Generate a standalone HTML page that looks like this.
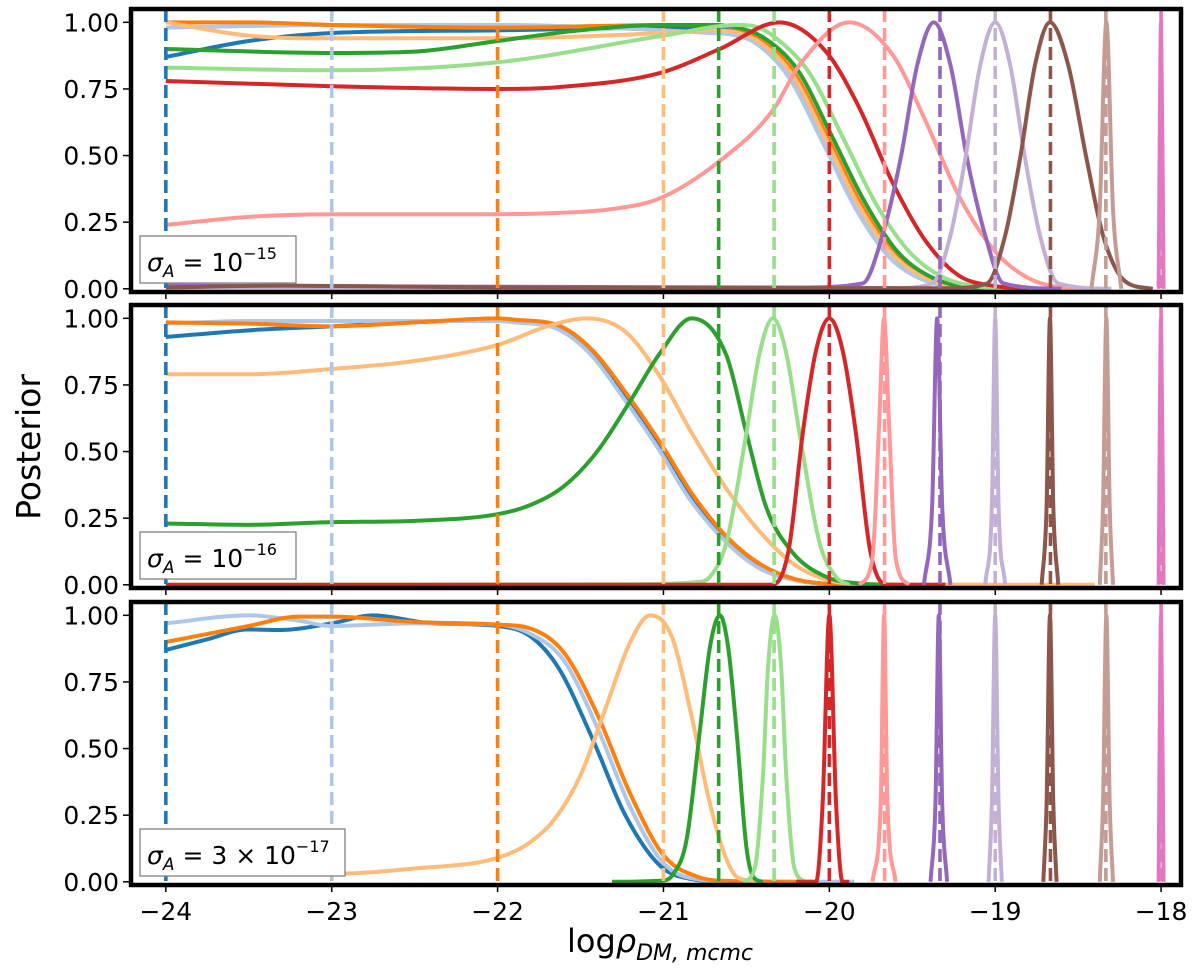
<!DOCTYPE html>
<html><head><meta charset="utf-8"><style>
html,body{margin:0;padding:0;background:#fff;}
svg text{font-family:"DejaVu Sans","Liberation Sans",sans-serif;}
</style></head><body>
<svg id="chart" width="1200" height="970" viewBox="0 0 1200 970" xmlns="http://www.w3.org/2000/svg">
<text x="0" y="0" font-size="33" text-anchor="middle" transform="translate(40,447) rotate(-90)">Posterior</text>
<text x="660" y="952" font-size="32" text-anchor="middle">log<tspan font-style="italic">ρ</tspan><tspan font-style="italic" font-size="22" dy="8">DM, mcmc</tspan></text>
</svg>
<script>
const xTicks = [-24,-23,-22,-21,-20,-19,-18];
const yTicks = [0,0.25,0.5,0.75,1.0];
const yTickLabels = ["0.00","0.25","0.50","0.75","1.00"];
const trueValues = [-24,-23,-22,-21,-20.667,-20.333,-20,-19.667,-19.333,-19,-18.667,-18.333,-18];
const colors = ["#1f77b4","#aec7e8","#ff7f0e","#ffbb78","#2ca02c","#98df8a","#d62728","#ff9896","#9467bd","#c5b0d5","#8c564b","#c49c94","#e377c2"];
const panelLabels = ["10<tspan dy='-12' font-size='16'>−15</tspan>","10<tspan dy='-12' font-size='16'>−16</tspan>","3 × 10<tspan dy='-12' font-size='16'>−17</tspan>"];

// Panel 1 (sigma 1e-15)
const p1_blue = [[-24,0.87],[-23.5,0.93],[-23,0.96],[-22,0.97],[-21,0.98],[-20.7,0.98],[-20.58,0.975],[-20.42,0.93],[-20.22,0.80],[-20.02,0.56],[-19.82,0.31],[-19.62,0.13],[-19.42,0.04],[-19.2,0.005],[-19,0]];
const p1_lblue = [[-24,0.98],[-23,0.99],[-22,0.99],[-21,0.97],[-20.72,0.96],[-20.6,0.955],[-20.44,0.92],[-20.24,0.79],[-20.04,0.55],[-19.84,0.30],[-19.64,0.12],[-19.44,0.035],[-19.2,0.004],[-19,0]];
const p1_orange = [[-24,1.0],[-23.5,1.0],[-23,0.99],[-22,0.98],[-21,0.99],[-20.7,0.99],[-20.57,0.98],[-20.41,0.935],[-20.21,0.81],[-20.01,0.57],[-19.81,0.32],[-19.61,0.135],[-19.41,0.04],[-19.2,0.005],[-19,0]];
const p1_lorange = [[-24,1.0],[-23.5,0.95],[-23,0.94],[-22,0.94],[-21,0.96],[-20.7,0.97],[-20.58,0.965],[-20.42,0.925],[-20.22,0.80],[-20.02,0.56],[-19.82,0.31],[-19.62,0.13],[-19.42,0.04],[-19.2,0.005],[-19,0]];
const p1_green = [[-24,0.9],[-23,0.885],[-22.5,0.89],[-22,0.93],[-21.5,0.97],[-21,0.99],[-20.7,0.99],[-20.55,0.98],[-20.39,0.94],[-20.19,0.82],[-19.99,0.58],[-19.79,0.33],[-19.59,0.14],[-19.39,0.045],[-19.15,0.005],[-18.95,0]];
const p1_lgreen = [[-24,0.83],[-23,0.82],[-22,0.85],[-21,0.95],[-20.55,0.99],[-20.45,0.985],[-20.32,0.94],[-20.12,0.81],[-19.92,0.57],[-19.72,0.32],[-19.52,0.14],[-19.32,0.045],[-19.1,0.008],[-18.9,0]];
const p1_red = [[-24,0.78],[-23,0.76],[-22,0.75],[-21.63,0.757],[-21.02,0.81],[-20.66,0.90],[-20.3,1.0],[-20.02,0.89],[-19.82,0.68],[-19.62,0.40],[-19.42,0.18],[-19.22,0.05],[-19.0,0.01],[-18.8,0]];
const p1_lred = [[-24,0.24],[-23.5,0.27],[-23,0.28],[-22,0.28],[-21.63,0.285],[-21.3,0.30],[-21.02,0.34],[-20.66,0.48],[-20.34,0.67],[-20.18,0.84],[-19.88,1.0],[-19.62,0.88],[-19.42,0.63],[-19.22,0.35],[-19.0,0.14],[-18.8,0.04],[-18.6,0.005],[-18.4,0]];
const p1_purple = [[-24,0.012],[-20.2,0.005],[-19.8,0.02],[-19.68,0.2],[-19.57,0.49],[-19.47,0.84],[-19.37,1],[-19.27,0.84],[-19.17,0.49],[-19.06,0.2],[-18.95,0.02],[-18.6,0]];
const p1_lpurple = [[-24,0.005],[-19.6,0.003],[-19.38,0.02],[-19.27,0.2],[-19.18,0.49],[-19.09,0.84],[-19.0,1],[-18.91,0.84],[-18.82,0.49],[-18.73,0.2],[-18.62,0.02],[-18.3,0]];
const p1_brown = [[-24,0.005],[-23.3,0.012],[-22,0.005],[-19.3,0.002],[-19.05,0.02],[-18.94,0.2],[-18.85,0.49],[-18.76,0.84],[-18.67,1],[-18.56,0.84],[-18.45,0.49],[-18.35,0.2],[-18.22,0.03],[-18.05,0]];
const p1_lbrown = [[-18.42,0],[-18.37,0.3],[-18.33,1],[-18.29,0.3],[-18.24,0]];
const p1_pink = [[-18.015,0],[-18.0,1],[-17.985,0]];

// Panel 2 (sigma 1e-16)
const p2_blue = [[-24,0.93],[-23.5,0.955],[-23,0.97],[-22.5,0.985],[-22,0.995],[-21.9,0.99],[-21.63,0.965],[-21.43,0.87],[-21.23,0.71],[-21.02,0.52],[-20.83,0.33],[-20.62,0.17],[-20.42,0.07],[-20.22,0.02],[-20.0,0.003],[-19.8,0]];
const p2_lblue = [[-24,0.98],[-23.5,0.99],[-23,0.99],[-22.5,0.99],[-22,0.99],[-21.9,0.985],[-21.64,0.96],[-21.44,0.865],[-21.24,0.70],[-21.03,0.51],[-20.84,0.32],[-20.63,0.165],[-20.43,0.065],[-20.23,0.02],[-20.0,0.003],[-19.8,0]];
const p2_orange = [[-24,0.985],[-23.5,0.98],[-23,0.97],[-22.5,0.985],[-22,1.0],[-21.9,0.995],[-21.62,0.97],[-21.42,0.875],[-21.22,0.715],[-21.01,0.525],[-20.82,0.335],[-20.61,0.175],[-20.41,0.075],[-20.21,0.022],[-20.0,0.003],[-19.8,0]];
const p2_lorange = [[-24,0.79],[-23.5,0.79],[-23,0.81],[-22.5,0.84],[-22,0.9],[-21.7,0.97],[-21.46,1.0],[-21.23,0.95],[-21.02,0.78],[-20.83,0.57],[-20.62,0.36],[-20.42,0.2],[-20.22,0.08],[-20.02,0.02],[-19.8,0.002],[-18.4,0]];
const p2_green = [[-24,0.23],[-23.5,0.225],[-23,0.235],[-22.5,0.24],[-22,0.265],[-21.8,0.30],[-21.6,0.37],[-21.4,0.50],[-21.2,0.69],[-21.02,0.87],[-20.83,1.0],[-20.62,0.86],[-20.5,0.57],[-20.38,0.29],[-20.22,0.12],[-20.02,0.03],[-19.82,0.005],[-19.6,0]];
const p2_lgreen = [[-24,0],[-21.2,0.002],[-20.8,0.01],[-20.72,0.03],[-20.62,0.16],[-20.5,0.57],[-20.42,0.87],[-20.34,1],[-20.26,0.87],[-20.18,0.57],[-20.06,0.16],[-19.96,0.03],[-19.88,0]];
const p2_red = [[-24,0],[-20.36,0],[-20.30,0.02],[-20.24,0.15],[-20.16,0.57],[-20.08,0.88],[-20.0,1],[-19.92,0.88],[-19.84,0.57],[-19.76,0.15],[-19.70,0.02],[-19.64,0],[-19.3,0]];
const p2_lred = [[-19.82,0],[-19.74,0.1],[-19.70,0.6],[-19.67,1],[-19.64,0.6],[-19.60,0.1],[-19.52,0]];
const p2_purple = [[-19.43,0],[-19.38,0.3],[-19.35,1],[-19.32,0.3],[-19.27,0]];
const p2_lpurple = [[-19.06,0],[-19.02,0.3],[-19.0,1],[-18.98,0.3],[-18.94,0]];
const p2_brown = [[-18.72,0],[-18.69,0.3],[-18.67,1],[-18.65,0.3],[-18.62,0]];
const p2_lbrown = [[-18.37,0],[-18.35,0.3],[-18.33,1],[-18.31,0.3],[-18.29,0]];
const p2_pink = [[-18.015,0],[-18.0,1],[-17.985,0]];

// Panel 3 (sigma 3e-17)
const p3_blue = [[-24,0.87],[-23.75,0.91],[-23.51,0.947],[-23.31,0.945],[-23.0,0.97],[-22.75,1.0],[-22.4,0.97],[-22.0,0.96],[-21.8,0.92],[-21.63,0.80],[-21.43,0.54],[-21.23,0.25],[-21.02,0.06],[-20.83,0.01],[-20.6,0]];
const p3_lblue = [[-24,0.97],[-23.5,1.0],[-23.2,0.98],[-23,0.96],[-22.5,0.97],[-22,0.965],[-21.8,0.93],[-21.6,0.83],[-21.4,0.58],[-21.2,0.28],[-21.0,0.07],[-20.8,0.01],[-20.5,0],[-19.85,0]];
const p3_orange = [[-24,0.9],[-23.5,0.96],[-23.2,0.995],[-23,0.995],[-22.5,0.975],[-22,0.965],[-21.8,0.95],[-21.6,0.86],[-21.4,0.63],[-21.2,0.33],[-21.0,0.1],[-20.8,0.02],[-20.6,0.003],[-20.1,0]];
const p3_lorange = [[-24,0.03],[-23,0.03],[-22.5,0.05],[-22,0.09],[-21.8,0.15],[-21.65,0.24],[-21.5,0.40],[-21.35,0.65],[-21.2,0.90],[-21.08,1.0],[-20.95,0.92],[-20.83,0.62],[-20.73,0.32],[-20.63,0.10],[-20.55,0.015],[-20.4,0]];
const p3_green = [[-21.31,0],[-21.0,0.005],[-20.94,0.03],[-20.86,0.16],[-20.78,0.57],[-20.72,0.88],[-20.66,1],[-20.61,0.88],[-20.56,0.57],[-20.5,0.13],[-20.46,0.02],[-20.4,0]];
const p3_lgreen = [[-20.52,0],[-20.45,0.05],[-20.40,0.4],[-20.37,0.8],[-20.33,1],[-20.29,0.8],[-20.26,0.4],[-20.21,0.05],[-20.14,0]];
const p3_red = [[-20.2,0],[-20.08,0],[-20.04,0.3],[-20.0,1],[-19.96,0.3],[-19.92,0],[-19.88,0]];
const p3_lred = [[-19.74,0],[-19.69,0.3],[-19.67,1],[-19.65,0.3],[-19.60,0]];
const p3_purple = [[-19.39,0],[-19.36,0.3],[-19.34,1],[-19.32,0.3],[-19.29,0]];
const p3_lpurple = [[-19.04,0],[-19.02,0.3],[-19.0,1],[-18.98,0.3],[-18.96,0]];
const p3_brown = [[-18.71,0],[-18.69,0.3],[-18.67,1],[-18.65,0.3],[-18.63,0]];
const p3_lbrown = [[-18.37,0],[-18.35,0.3],[-18.33,1],[-18.31,0.3],[-18.29,0]];
const p3_pink = [[-18.015,0],[-18.0,1],[-17.985,0]];

const panelSeries = [
 [p1_blue,p1_lblue,p1_orange,p1_lorange,p1_green,p1_lgreen,p1_red,p1_lred,p1_purple,p1_lpurple,p1_brown,p1_lbrown,p1_pink],
 [p2_blue,p2_lblue,p2_orange,p2_lorange,p2_green,p2_lgreen,p2_red,p2_lred,p2_purple,p2_lpurple,p2_brown,p2_lbrown,p2_pink],
 [p3_blue,p3_lblue,p3_orange,p3_lorange,p3_green,p3_lgreen,p3_red,p3_lred,p3_purple,p3_lpurple,p3_brown,p3_lbrown,p3_pink]
];
const seriesNames = ["blue","light-blue","orange","light-orange","green","light-green","red","light-red","purple","light-purple","brown","light-brown","pink"];

const svg = document.getElementById('chart');
const NS = 'http://www.w3.org/2000/svg';
const L = 131, R = 1181;
const X0 = -24.21, X1 = -17.88;
const panelBoxes = [[9,292],[305,588],[602,885]];
const Y0 = -0.012, Y1 = 1.05;
function sx(v){ return L + (v - X0) / (X1 - X0) * (R - L); }
function mk(tag, attrs){ const e = document.createElementNS(NS, tag); for (const k in attrs) e.setAttribute(k, attrs[k]); return e; }

function monoPath(pts, fx, fy){
  const n = pts.length;
  const xs = pts.map(p=>fx(p[0])), ys = pts.map(p=>fy(p[1]));
  if (n < 3) return 'M' + xs.map((x,i)=>x+','+ys[i]).join('L');
  const d = [], m = [];
  for (let i=0;i<n-1;i++) d.push((ys[i+1]-ys[i])/((xs[i+1]-xs[i])||1e-6));
  m.push(d[0]);
  for (let i=1;i<n-1;i++) m.push(d[i-1]*d[i] <= 0 ? 0 : (d[i-1]+d[i])/2);
  m.push(d[n-2]);
  for (let i=0;i<n-1;i++){
    if (d[i] === 0){ m[i]=0; m[i+1]=0; continue; }
    const a = m[i]/d[i], b = m[i+1]/d[i], s = a*a+b*b;
    if (s > 9){ const t = 3/Math.sqrt(s); m[i]=t*a*d[i]; m[i+1]=t*b*d[i]; }
  }
  let p = 'M' + xs[0].toFixed(2) + ',' + ys[0].toFixed(2);
  for (let i=0;i<n-1;i++){
    const h = (xs[i+1]-xs[i])/3;
    p += 'C' + (xs[i]+h).toFixed(2) + ',' + (ys[i]+m[i]*h).toFixed(2) + ' ' + (xs[i+1]-h).toFixed(2) + ',' + (ys[i+1]-m[i+1]*h).toFixed(2) + ' ' + xs[i+1].toFixed(2) + ',' + ys[i+1].toFixed(2);
  }
  return p;
}

panelBoxes.forEach((box, pi) => {
  const top = box[0], bot = box[1];
  const sy = v => bot - (v - Y0) / (Y1 - Y0) * (bot - top);
  const g = mk('g', {});
  
  
  svg.appendChild(g);
  const clipId = 'clip' + pi;
  const cp = mk('clipPath', {id: clipId});
  cp.appendChild(mk('rect', {x: L, y: top, width: R-L, height: bot-top}));
  g.appendChild(cp);
  const plot = mk('g', {'clip-path': 'url(#' + clipId + ')'});
  g.appendChild(plot);
  panelSeries[pi].forEach((pts, si) => {
    const path = mk('path', {d: monoPath(pts, sx, sy), fill: 'none', stroke: colors[si], 'stroke-width': 4, 'stroke-linejoin': 'round'});
    
    
    plot.appendChild(path);
  });
  trueValues.forEach((tv, si) => {
    const ln = mk('line', {x1: sx(tv), x2: sx(tv), y1: top, y2: bot, stroke: colors[si], 'stroke-width': 3.6, 'stroke-dasharray': '13,6'});
    
    
    plot.appendChild(ln);
  });
  const fr = mk('rect', {x: L, y: top, width: R-L, height: bot-top, fill: 'none', stroke: '#000', 'stroke-width': 4.5});
  
  
  g.appendChild(fr);
  yTicks.forEach((t, i) => {
    const y = sy(t);
    const tk = mk('line', {x1: L-8, x2: L, y1: y, y2: y, stroke: '#000', 'stroke-width': 1.5});
    
    
    g.appendChild(tk);
    const tx = mk('text', {x: L-12, y: y+9, 'font-size': 25, 'text-anchor': 'end'});
    
    
    tx.textContent = yTickLabels[i];
    g.appendChild(tx);
  });
  xTicks.forEach(t => {
    const x = sx(t);
    const tk = mk('line', {x1: x, x2: x, y1: bot, y2: bot+7, stroke: '#000', 'stroke-width': 1.5});
    
    
    g.appendChild(tk);
    if (pi === 2){
      const tx = mk('text', {x: x, y: bot+35, 'font-size': 25, 'text-anchor': 'middle'});
      
      
      tx.textContent = '−' + Math.abs(t);
      g.appendChild(tx);
    }
  });
  const lw = pi === 2 ? 205 : 156;
  const lb = mk('rect', {x: 140, y: bot-56, width: lw, height: 47, fill: '#fff', stroke: '#777', 'stroke-width': 1.2});
  
  
  g.appendChild(lb);
  const lt = mk('text', {x: 147, y: bot-21, 'font-size': 25});
  
  
  lt.innerHTML = "<tspan font-style='italic'>σ</tspan><tspan font-style='italic' font-size='17' dy='6'>A</tspan><tspan dy='-6'> = </tspan>" + panelLabels[pi];
  g.appendChild(lt);
});
</script>
</body></html>
